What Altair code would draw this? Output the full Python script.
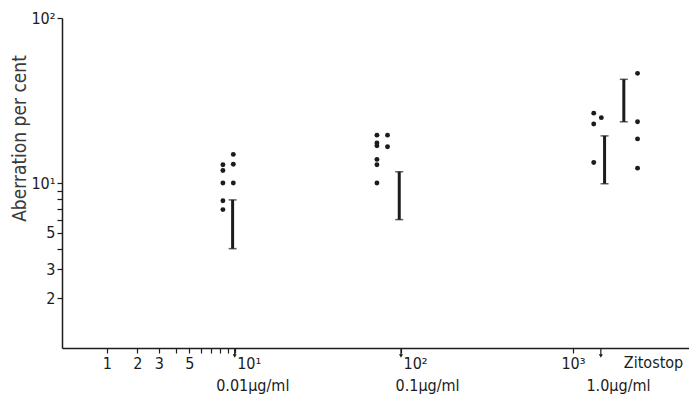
import altair as alt
import pandas as pd

# ---- data ----
dot_dose = [9.8, 9.8, 8.4, 8.4, 8.4, 9.8, 8.4, 8.4,
            72.3, 83.4, 72.3, 72.3, 83.4, 72.3, 72.3, 72.3,
            1319, 1460, 1319, 1319, 2366, 2366, 2366, 2366]
dot_pct = [14.9, 13.0, 12.9, 11.9, 10.0, 10.0, 7.8, 6.9,
           19.5, 19.5, 17.5, 16.8, 16.6, 13.9, 12.9, 10.0,
           26.5, 24.9, 22.8, 13.3, 46.2, 23.5, 18.5, 12.3]

bar_dose = [9.7, 97.7, 1524, 1970]
bar_low = [4.0, 6.0, 9.9, 23.5]
bar_high = [7.9, 11.7, 19.3, 42.5]

arrow_dose = [10, 100, 1450]

conc_labels = ["0.01µg/ml", "0.1µg/ml", "1.0µg/ml"]
conc_dose = [13, 143, 1835]
extra_label = ["Zitostop"]
extra_dose = [2928]

x_tick_values = [1, 2, 3, 4, 5, 6, 7, 8, 9, 10, 100, 1000]
x_tick_labels = {1: "1", 2: "2", 3: "3", 5: "5", 10: "10¹", 100: "10²", 1000: "10³"}
y_tick_values = [2, 3, 4, 5, 6, 7, 8, 9, 10, 100]
y_tick_labels = {2: "2", 3: "3", 5: "5", 10: "10¹", 100: "10²"}

# ---- layout ----
W, H = 627, 330
FONT = "DejaVu Sans Condensed"
FS = 16
INK = "#1c1c1c"


def label_expr(mapping):
    expr = "''"
    for k, v in reversed(list(mapping.items())):
        expr = f"datum.value == {k} ? '{v}' : ({expr})"
    return expr


dots = pd.DataFrame({"dose": dot_dose, "pct": dot_pct})
bars = pd.DataFrame({"dose": bar_dose, "lo": bar_low, "hi": bar_high})
arrows = pd.DataFrame({"dose": arrow_dose})
concs = pd.DataFrame({"dose": conc_dose, "label": conc_labels})
extras = pd.DataFrame({"dose": extra_dose, "label": extra_label})

xscale = alt.Scale(type="symlog", constant=1, domain=[0.1, 4700], nice=False)
yscale = alt.Scale(type="log", domain=[1, 100], nice=False)

axis_style = dict(
    grid=False,
    tickSize=5,
    labelPadding=2,
    domainColor=INK,
    domainWidth=1.5,
    tickColor=INK,
    tickWidth=1.2,
    labelFont=FONT,
    labelFontSize=FS,
    labelColor=INK,
)

xaxis = alt.Axis(
    values=x_tick_values,
    labelExpr=label_expr(x_tick_labels),
    labelAlign={"condition": {"test": "datum.value == 10 || datum.value == 100", "value": "left"},
                "value": "center"},
    labelOffset={"condition": {"test": "datum.value == 10 || datum.value == 100", "value": 2},
                 "value": 0},
    title=None,
    **axis_style,
)
yaxis = alt.Axis(
    values=y_tick_values,
    labelExpr=label_expr(y_tick_labels),
    title="Aberration per cent",
    titleX=-33,
    titleY=120,
    titleFont=FONT,
    titleFontSize=19,
    titleFontWeight="normal",
    titleColor="#3a3a3a",
    **axis_style,
)

points = alt.Chart(dots).mark_circle(size=24, color=INK, opacity=1).encode(
    x=alt.X("dose:Q", scale=xscale, axis=xaxis),
    y=alt.Y("pct:Q", scale=yscale, axis=yaxis),
)

bar_rules = alt.Chart(bars).mark_rule(color=INK, strokeWidth=3).encode(
    x=alt.X("dose:Q", scale=xscale),
    y=alt.Y("lo:Q", scale=yscale),
    y2="hi:Q",
)
cap_lo = alt.Chart(bars).mark_tick(color=INK, orient="horizontal", size=8, thickness=1.5).encode(
    x=alt.X("dose:Q", scale=xscale),
    y=alt.Y("lo:Q", scale=yscale),
)
cap_hi = alt.Chart(bars).mark_tick(color=INK, orient="horizontal", size=8, thickness=1.5).encode(
    x=alt.X("dose:Q", scale=xscale),
    y=alt.Y("hi:Q", scale=yscale),
)

arrow_shaft = alt.Chart(arrows).mark_rule(color=INK, strokeWidth=1.2).encode(
    x=alt.X("dose:Q", scale=xscale),
    y=alt.value(H),
    y2=alt.value(H + 8),
)
arrow_head = alt.Chart(arrows).mark_point(shape="triangle-down", filled=True, size=16,
                                           color=INK, opacity=1).encode(
    x=alt.X("dose:Q", scale=xscale),
    y=alt.value(H + 8),
)

conc_text = alt.Chart(concs).mark_text(font=FONT, fontSize=FS, color=INK, baseline="middle",
                                       align="center").encode(
    x=alt.X("dose:Q", scale=xscale),
    y=alt.value(H + 38),
    text="label:N",
)
extra_text = alt.Chart(extras).mark_text(font=FONT, fontSize=FS, color=INK, baseline="middle",
                                         align="center").encode(
    x=alt.X("dose:Q", scale=xscale),
    y=alt.value(H + 15),
    text="label:N",
)

chart = alt.layer(
    points, bar_rules, cap_lo, cap_hi, arrow_shaft, arrow_head, conc_text, extra_text
).properties(
    width=W,
    height=H,
    background="white",
    autosize=alt.AutoSizeParams(type="none"),
    padding={"left": 54, "top": 10, "right": 0, "bottom": 50},
).configure_view(stroke=None)

chart.save("out.html", embed_options={"renderer": "svg", "actions": False})
